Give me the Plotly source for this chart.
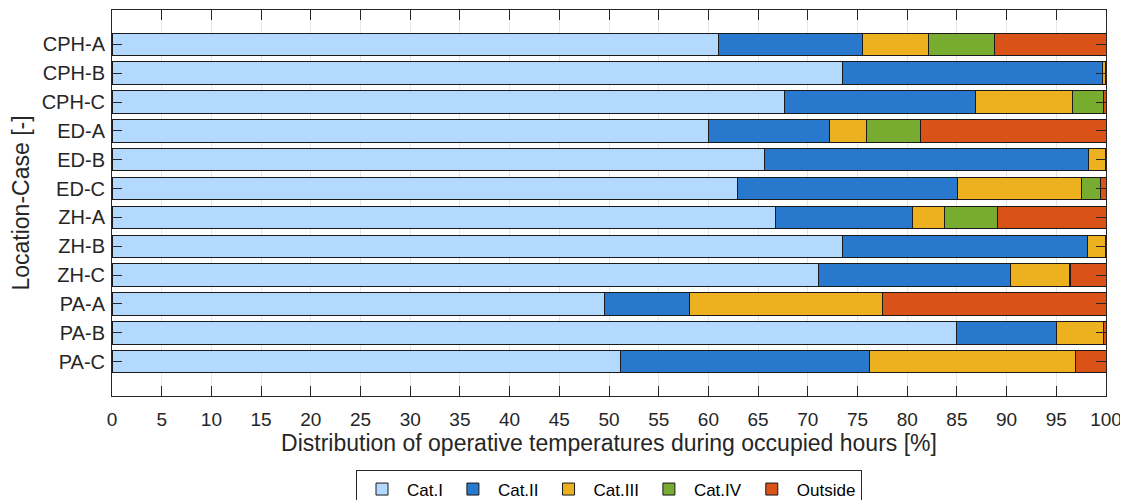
import plotly.graph_objects as go

cases = ["CPH-A", "CPH-B", "CPH-C", "ED-A", "ED-B", "ED-C",
         "ZH-A", "ZH-B", "ZH-C", "PA-A", "PA-B", "PA-C"]

# share of occupied hours per comfort category [%]
cat_1 = [61.0, 73.5, 67.7, 60.05, 65.6, 62.9, 66.8, 73.5, 71.1, 49.55, 85.0, 51.2]
cat_2 = [14.5, 26.1, 19.2, 12.15, 32.6, 22.2, 13.75, 24.65, 19.3, 8.5, 10.0, 25.05]
cat_3 = [6.65, 0.35, 9.7, 3.7, 1.75, 12.4, 3.2, 1.8, 5.9, 19.5, 4.7, 20.65]
cat_4 = [6.65, 0.0, 3.1, 5.4, 0.0, 1.95, 5.3, 0.0, 0.1, 0.0, 0.0, 0.0]
outside = [11.2, 0.05, 0.3, 18.7, 0.05, 0.55, 10.95, 0.05, 3.6, 22.45, 0.3, 3.1]

series = [
    ("Cat.I", cat_1, "#B3D9FF"),
    ("Cat.II", cat_2, "#2878CD"),
    ("Cat.III", cat_3, "#EDB120"),
    ("Cat.IV", cat_4, "#77AC30"),
    ("Outside", outside, "#D95319"),
]

fig = go.Figure()
for name, vals, color in series:
    fig.add_bar(
        x=vals, y=cases, name=name, orientation="h",
        marker=dict(color=color, line=dict(color="#1a1a1a", width=1)),
        width=0.78,
    )

axis_col = "#262626"
font = "Arial, Liberation Sans, sans-serif"

# page body has an 8px margin, so the figure is sized/offset to compensate
fig.update_layout(
    barmode="stack",
    width=1120, height=492,
    margin=dict(l=104, r=22, t=2, b=104, autoexpand=False),
    plot_bgcolor="white", paper_bgcolor="white",
    font=dict(family=font, size=19, color=axis_col),
    legend=dict(
        orientation="h", x=0.5, xanchor="center", y=-0.193, yanchor="top",
        bordercolor="#262626", borderwidth=1, font=dict(size=17, color="black"),
        traceorder="normal", itemwidth=40,
    ),
)
fig.update_xaxes(
    range=[0, 100], dtick=5, tick0=0,
    showgrid=True, gridcolor="#e6e6e6", gridwidth=1,
    ticks="inside", ticklen=10, tickcolor=axis_col, ticklabelstandoff=6,
    showline=True, linecolor=axis_col, linewidth=1, mirror="ticks",
    zeroline=False, automargin=False,
    title=dict(text="Distribution of operative temperatures during occupied hours [%]",
               standoff=5),
)
fig.update_yaxes(
    categoryorder="array", categoryarray=cases,
    range=[12.19, -1.19],
    showgrid=False, tickfont=dict(size=20),
    ticks="inside", ticklen=10, tickcolor=axis_col, ticklabelstandoff=2,
    showline=True, linecolor=axis_col, linewidth=1, mirror="ticks",
    automargin=False,
    title=dict(text="Location-Case [-]", standoff=6),
)

fig.write_html("out.html")
